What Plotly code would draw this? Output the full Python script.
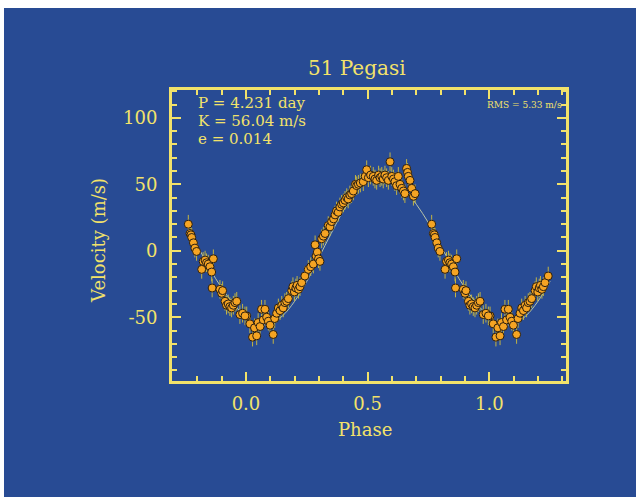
import plotly.graph_objects as go

# ---- data (one period, phase 0..1) ----
base_phase = [0.003, 0.016, 0.027, 0.035, 0.044, 0.050, 0.058, 0.064, 0.071, 0.078,
              0.085, 0.092, 0.099, 0.112, 0.118, 0.126, 0.133, 0.140, 0.147, 0.153,
              0.160, 0.167, 0.174, 0.188, 0.193, 0.199, 0.205, 0.210, 0.216, 0.222,
              0.229, 0.242, 0.256, 0.266, 0.277, 0.284, 0.288, 0.293, 0.298, 0.304,
              0.311, 0.318, 0.325, 0.338, 0.345, 0.352, 0.360, 0.366, 0.372, 0.379,
              0.386, 0.393, 0.400, 0.407, 0.414, 0.420, 0.427, 0.434, 0.441, 0.450,
              0.455, 0.462, 0.470, 0.482, 0.490, 0.496, 0.503, 0.512, 0.523, 0.530,
              0.537, 0.545, 0.551, 0.558, 0.564, 0.571, 0.578, 0.585, 0.592, 0.599,
              0.606, 0.612, 0.619, 0.626, 0.633, 0.640, 0.647, 0.653, 0.660, 0.664,
              0.667, 0.674, 0.681, 0.688, 0.695,
              0.763, 0.770, 0.774, 0.777, 0.784, 0.790, 0.797, 0.818, 0.824, 0.832,
              0.838, 0.845, 0.852, 0.859, 0.866, 0.861, 0.893, 0.900, 0.904, 0.914,
              0.920, 0.927, 0.934, 0.941, 0.948, 0.955, 0.962, 0.975, 0.986, 0.996]
base_velocity = [-49, -55, -65, -58, -64, -54, -57, -44, -52, -44,
                 -50, -53, -56, -63, -51, -47, -43, -45, -41, -43,
                 -39, -38, -36, -30, -27, -31, -28, -26, -29, -27,
                 -24, -19, -14, -12, -10, 4.5, -4, -1, -6, -8,
                 9, 11, 13, 19, 18, 22, 24, 27, 30, 29,
                 33, 35, 36, 38, 40, 39, 42, 43, 45, 50,
                 49, 50, 51, 52, 56, 61, 55, 57, 56, 54,
                 53, 57, 55, 56, 54, 57, 55, 53, 67, 56,
                 54, 52, 49, 56, 50, 47, 45, 43, 62, 59,
                 56, 53, 47, 41, 43,
                 20, 13, 12, 10, 6, 2, -0.5, -14, -8, -7,
                 -9, -10, -12, -16, -6, -28, -29, -32, -30, -38,
                 -41, -40, -42, -43, -41, -39, -38, -48, -47, -49]
velocity_error = 7

# fitted orbit every 0.05 in phase
curve_phase = [-0.25, -0.20, -0.15, -0.10, -0.05, 0.00, 0.05, 0.10, 0.15, 0.20,
               0.25, 0.30, 0.35, 0.40, 0.45, 0.50, 0.55, 0.60, 0.65, 0.70,
               0.75, 0.80, 0.85, 0.90, 0.95, 1.00, 1.05, 1.10, 1.15, 1.20, 1.25]
curve_velocity = [21, 4, -13, -28, -40, -50, -55.5, -55, -49, -38,
                  -23, -5, 13, 30, 43, 52, 56, 54, 47, 35,
                  21, 4, -13, -28, -40, -50, -55.5, -55, -49, -38, -23]

x_ticks = [0.0, 0.5, 1.0]
y_ticks = [-50, 0, 50, 100]
y_tick_labels = ["-50", "0", "50", "100"]

# extend the period to -0.25 .. 1.25 by repeating the measured points
phase, velocity = [], []
for p, v in zip(base_phase, base_velocity):
    phase.append(p); velocity.append(v)
    if p < 0.25:
        phase.append(p + 1); velocity.append(v)
    if p >= 0.75:
        phase.append(p - 1); velocity.append(v)

BLUE = "#284b94"
YEL = "#f2e26a"
FONT = "DejaVu Serif"

fig = go.Figure()
fig.add_trace(go.Scatter(x=curve_phase, y=curve_velocity, mode="lines",
                         line=dict(color="#b8c4a8", width=1, shape="spline"),
                         hoverinfo="skip"))
fig.add_trace(go.Scatter(x=phase, y=velocity, mode="markers",
                         error_y=dict(type="constant", value=velocity_error,
                                      color="#c2b445", thickness=1, width=0),
                         marker=dict(color="#f5a423", size=8,
                                     line=dict(color="#2a1e10", width=1))))

axis_common = dict(showline=True, linecolor=YEL, linewidth=3, mirror="allticks",
                   ticks="inside", tickcolor=YEL, tickwidth=2, ticklen=9,
                   showgrid=False, zeroline=False,
                   tickfont=dict(family=FONT, size=18, color=YEL))
fig.update_xaxes(range=[-0.304, 1.315], tickvals=x_ticks, tickformat=".1f",
                 minor=dict(dtick=0.1, ticks="inside", ticklen=5, tickcolor=YEL,
                            tickwidth=2, showgrid=False),
                 ticklabelstandoff=4, **axis_common)
fig.update_yaxes(range=[-98, 121], tickvals=y_ticks, ticktext=y_tick_labels,
                 minor=dict(dtick=10, ticks="inside", ticklen=5, tickcolor=YEL,
                            tickwidth=2, showgrid=False),
                 ticklabelstandoff=8, **axis_common)

def ann(text, x, y, size, xanchor="center", textangle=0):
    fig.add_annotation(text=text, x=x, y=y, xref="paper", yref="paper",
                       xanchor=xanchor, yanchor="middle", showarrow=False,
                       textangle=textangle,
                       font=dict(family=FONT, size=size, color=YEL))

ann("51 Pegasi", 0.4695, 1.0756, 20)
ann("P = 4.231 day", 0.061, 0.954, 15, xanchor="left")
ann("K = 56.04 m/s", 0.061, 0.892, 15, xanchor="left")
ann("e = 0.014", 0.061, 0.830, 15, xanchor="left")
ann("RMS = 5.33 m/s", 0.995, 0.948, 9, xanchor="right")
ann("Velocity (m/s)", -0.188, 0.4845, 18, textangle=-90)
ann("Phase", 0.49, -0.165, 18)

# white strips at the top and left edge of the picture
fig.add_shape(type="rect", xref="paper", yref="paper", x0=-0.45, x1=1.2,
              y0=1.2818, y1=1.33, fillcolor="white", line_width=0, layer="below")
fig.add_shape(type="rect", xref="paper", yref="paper", x0=-0.45, x1=-0.4264,
              y0=-0.42, y1=1.33, fillcolor="white", line_width=0, layer="below")

fig.update_layout(width=636, height=497, showlegend=False,
                  paper_bgcolor=BLUE, plot_bgcolor=BLUE,
                  margin=dict(l=172, r=70, t=90, b=116))
fig.write_html("out.html", config={"displayModeBar": False},
               post_script="document.body.style.margin='0';"
                           "document.body.style.overflow='hidden';"
                           "document.body.style.background='" + BLUE + "';")
